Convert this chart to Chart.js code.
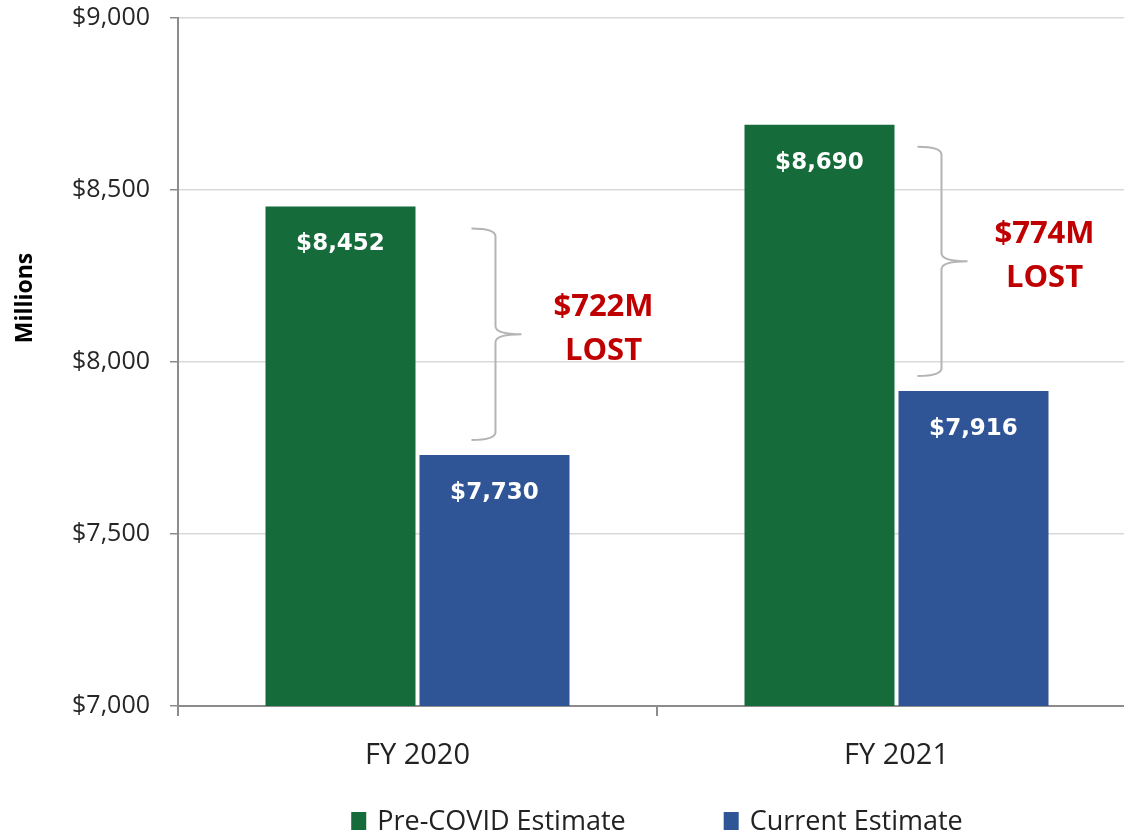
<!DOCTYPE html>
<html>
<head>
<meta charset="utf-8">
<script src="https://cdn.jsdelivr.net/npm/chart.js@4/dist/chart.umd.min.js"></script>
<style>
  body { margin: 0; overflow: hidden; background: #fff; }
  canvas { display: block; }
</style>
</head>
<body>
<canvas id="revenueChart" width="1140" height="834"></canvas>
<script>
const years = ['FY 2020', 'FY 2021'];
const preCovid = [8452, 8690];
const current = [7730, 7916];
const seriesNames = ['Pre-COVID Estimate', 'Current Estimate'];
const yTicks = [7000, 7500, 8000, 8500, 9000];

const green = '#156b39';
const blue = '#2f5597';
const fontFamily = '"Open Sans", "Noto Sans", sans-serif';

// white value labels inside the top of each bar
const valueLabels = {
  id: 'valueLabels',
  afterDatasetsDraw(chart) {
    const ctx = chart.ctx;
    ctx.save();
    ctx.fillStyle = '#ffffff';
    ctx.font = 'bold 23px "DejaVu Sans", sans-serif';
    ctx.textAlign = 'center';
    ctx.textBaseline = 'middle';
    chart.data.datasets.forEach((ds, di) => {
      chart.getDatasetMeta(di).data.forEach((bar, i) => {
        ctx.fillText('$' + ds.data[i].toLocaleString('en-US'), bar.x, bar.y + 38);
      });
    });
    ctx.restore();
  }
};

// curly brackets with the lost amount
const lossBrackets = {
  id: 'lossBrackets',
  afterDatasetsDraw(chart) {
    const ctx = chart.ctx;
    const y = chart.scales.y;
    const greenBars = chart.getDatasetMeta(0).data;
    const blueBars = chart.getDatasetMeta(1).data;
    const bracketShift = [80, 47];
    const textShift = [34, -4];
    ctx.save();
    years.forEach((yr, i) => {
      const gRight = greenBars[i].x + greenBars[i].width / 2;
      const bRight = blueBars[i].x + blueBars[i].width / 2;
      const x0 = gRight + bracketShift[i];
      const y1 = y.getPixelForValue(preCovid[i]) + 22;
      const y2 = y.getPixelForValue(current[i]) - 15;
      const ym = (y1 + y2) / 2;
      const h = 24, t = 26, r = 8;

      ctx.strokeStyle = '#b4b4b4';
      ctx.lineWidth = 2;
      ctx.beginPath();
      ctx.moveTo(x0 - h, y1);
      ctx.quadraticCurveTo(x0, y1, x0, y1 + r);
      ctx.lineTo(x0, ym - r);
      ctx.quadraticCurveTo(x0, ym, x0 + t, ym);
      ctx.moveTo(x0 + t, ym);
      ctx.quadraticCurveTo(x0, ym, x0, ym + r);
      ctx.lineTo(x0, y2 - r);
      ctx.quadraticCurveTo(x0, y2, x0 - h, y2);
      ctx.stroke();

      const lost = preCovid[i] - current[i];
      ctx.fillStyle = '#c00000';
      ctx.font = 'bold 31px ' + fontFamily;
      ctx.textAlign = 'center';
      ctx.textBaseline = 'middle';
      const tx = bRight + textShift[i];
      ctx.fillText('$' + lost + 'M', tx, ym - 27);
      ctx.fillText('LOST', tx, ym + 17);
    });
    ctx.restore();
  }
};

// y title and legend placed like the original
const extras = {
  id: 'extras',
  afterDraw(chart) {
    const ctx = chart.ctx;
    const area = chart.chartArea;
    ctx.save();
    ctx.fillStyle = '#000';
    ctx.font = 'bold 23px ' + fontFamily;
    ctx.textAlign = 'center';
    ctx.textBaseline = 'middle';
    ctx.translate(25, 298);
    ctx.rotate(-Math.PI / 2);
    ctx.fillText('Millions', 0, 0);
    ctx.restore();

    ctx.save();
    ctx.font = '27px ' + fontFamily;
    ctx.textBaseline = 'middle';
    const box = 16, gap = 10, spacing = 98;
    const widths = seriesNames.map(n => box + gap + ctx.measureText(n).width);
    const total = widths[0] + spacing + widths[1];
    let x = (area.left + area.right) / 2 - total / 2;
    const ly = 821;
    chart.data.datasets.forEach((ds, i) => {
      ctx.fillStyle = ds.backgroundColor;
      ctx.fillRect(x, ly - 9, 15, 18);
      ctx.fillStyle = '#222';
      ctx.fillText(seriesNames[i], x + box + gap, ly + 1);
      x += widths[i] + spacing;
    });
    ctx.restore();
  }
};

new Chart(document.getElementById('revenueChart'), {
  type: 'bar',
  data: {
    labels: years,
    datasets: [
      { label: seriesNames[0], data: preCovid, backgroundColor: green,
        categoryPercentage: 0.643, barPercentage: 0.974 },
      { label: seriesNames[1], data: current, backgroundColor: blue,
        categoryPercentage: 0.643, barPercentage: 0.974 }
    ]
  },
  options: {
    responsive: false,
    animation: false,
    layout: { padding: { top: 18, right: 4, left: 0, bottom: 0 } },
    plugins: {
      legend: { display: false },
      tooltip: { enabled: false }
    },
    scales: {
      x: {
        offset: true,
        afterFit(s) { s.height = 128; },
        grid: {
          display: true,
          drawOnChartArea: false,
          offset: true,
          tickLength: 10,
          color: '#8c8c8c',
          lineWidth: 2
        },
        border: { color: '#8c8c8c', width: 2 },
        ticks: {
          padding: 22,
          color: '#222',
          font: { family: fontFamily, size: 29 }
        }
      },
      y: {
        min: 7000,
        max: 9000,
        afterFit(s) {
          s.width = 178;
          s.paddingTop = 0;
          s.paddingBottom = 0;
        },
        afterBuildTicks(s) { s.ticks = yTicks.map(v => ({ value: v })); },
        grid: {
          color: '#d9d9d9',
          lineWidth: 1.5,
          tickLength: 8,
          tickColor: '#8c8c8c'
        },
        border: { color: '#8c8c8c', width: 2 },
        ticks: {
          padding: 20,
          color: '#262626',
          font: { family: fontFamily, size: 25 },
          callback: v => '$' + v.toLocaleString('en-US')
        }
      }
    }
  },
  plugins: [valueLabels, lossBrackets, extras]
});
</script>
</body>
</html>
